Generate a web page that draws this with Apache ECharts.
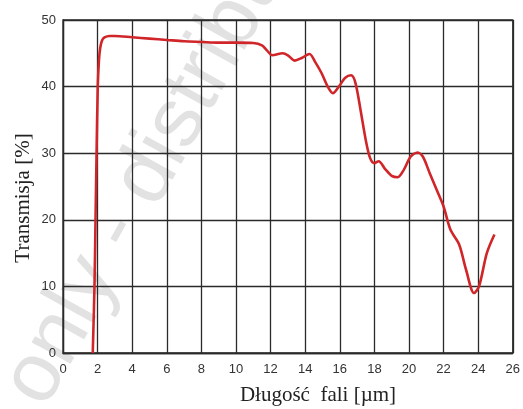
<!DOCTYPE html>
<html>
<head>
<meta charset="utf-8">
<script src="https://cdn.jsdelivr.net/npm/echarts@6/dist/echarts.min.js"></script>
<style>html,body{margin:0;padding:0;background:#fff}#c{width:523px;height:409px}</style>
</head>
<body>
<div id="c"></div>
<script>
var wavelength = [1.72, 1.82, 1.88, 1.94, 2.01, 2.08, 2.15, 2.25, 2.4, 2.7, 3, 4, 5, 6, 7, 8, 9, 10, 11, 11.5, 11.8, 12.1, 12.7, 13.0, 13.4, 13.8, 14.25, 14.6, 14.95, 15.3, 15.6, 16.0, 16.3, 16.65, 16.9, 17.2, 17.5, 17.75, 18.0, 18.25, 18.6, 19.0, 19.35, 19.7, 20.1, 20.5, 20.8, 21.2, 21.6, 22.0, 22.4, 22.9, 23.3, 23.76, 24.05, 24.5, 24.94];
var transmission = [0, 10, 20, 30, 40, 44, 45.8, 46.9, 47.4, 47.6, 47.6, 47.4, 47.2, 47.0, 46.8, 46.7, 46.6, 46.6, 46.55, 46.2, 45.4, 44.7, 45.0, 44.7, 43.9, 44.3, 44.9, 43.6, 42.0, 40.0, 39.0, 40.2, 41.3, 41.7, 40.6, 36.5, 32.0, 29.3, 28.5, 28.8, 27.7, 26.6, 26.4, 27.5, 29.5, 30.1, 29.5, 27.0, 24.5, 22.0, 18.5, 16.3, 12.5, 9.0, 10.0, 15.0, 17.8];
var xTicks = [0, 2, 4, 6, 8, 10, 12, 14, 16, 18, 20, 22, 24, 26];
var yTicks = [0, 10, 20, 30, 40, 50];
var xTitle = 'Długość  fali [µm]';
var yTitle = 'Transmisja [%]';
var watermark = 'only - distribution';

var points = wavelength.map(function (x, i) { return [x, transmission[i]]; });
var chart = echarts.init(document.getElementById('c'), null, {renderer: 'canvas'});
chart.setOption({
  animation: false,
  backgroundColor: '#fff',
  grid: {left: 63, right: 7, top: 20, bottom: 56, show: true, borderColor: '#2a2a2a', borderWidth: 1.3, backgroundColor: 'transparent'},
  xAxis: {
    type: 'value', min: xTicks[0], max: xTicks[xTicks.length - 1], interval: 2,
    axisLine: {show: true, lineStyle: {color: '#2a2a2a', width: 1.3}},
    axisTick: {show: false},
    axisLabel: {color: '#333', fontFamily: 'Liberation Sans', fontSize: 13, margin: 10},
    splitLine: {show: true, lineStyle: {color: '#2a2a2a', width: 1.3}}
  },
  yAxis: {
    type: 'value', min: yTicks[0], max: yTicks[yTicks.length - 1], interval: 10,
    axisLine: {show: true, lineStyle: {color: '#2a2a2a', width: 1.3}},
    axisTick: {show: false},
    axisLabel: {color: '#333', fontFamily: 'Liberation Sans', fontSize: 13, margin: 7},
    splitLine: {show: true, lineStyle: {color: '#2a2a2a', width: 1.3}}
  },
  graphic: [
    {type: 'text', z: -10, x: -12, y: 378, rotation: 61 * Math.PI / 180, silent: true,
     style: {text: watermark, fontFamily: 'Liberation Sans', fontSize: 84, fill: '#e2e2e2', align: 'left', verticalAlign: 'alphabetic'}},
    {type: 'text', x: 318, y: 395, style: {text: xTitle, fontFamily: 'Liberation Serif', fontSize: 21, fill: '#222', align: 'center', verticalAlign: 'middle'}},
    {type: 'text', x: 23, y: 198, rotation: Math.PI / 2, style: {text: yTitle, fontFamily: 'Liberation Serif', fontSize: 21, fill: '#222', align: 'center', verticalAlign: 'middle'}}
  ],
  series: [{
    type: 'line', data: points, smooth: 0.3, showSymbol: false,
    lineStyle: {color: '#d0262a', width: 2.6}
  }]
});
</script>
</body>
</html>
